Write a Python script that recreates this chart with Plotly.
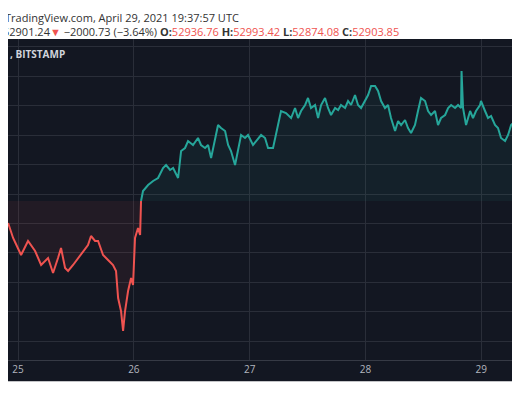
import plotly.graph_objects as go

baseline = 55000
red_x = [24.914,24.957,25.026,25.086,25.147,25.199,25.259,25.302,25.345,25.371,25.406,25.432,25.475,25.518,25.561,25.604,25.630,25.665,25.691,25.734,25.777,25.820,25.846,25.864,25.889,25.907,25.924,25.950,25.976,25.993,26.010,26.036,26.054,26.062]
red_y = [54626,54371,54082,54320,54150,53912,54031,53776,54031,54201,53861,53810,53912,54031,54150,54252,54405,54320,54320,54082,53997,53912,53810,53351,53130,52790,53130,53470,53691,53572,54371,54541,54422,55000]
green_x = [26.062,26.079,26.123,26.166,26.209,26.252,26.278,26.313,26.339,26.382,26.408,26.442,26.468,26.511,26.554,26.580,26.615,26.641,26.667,26.701,26.727,26.753,26.788,26.814,26.839,26.874,26.900,26.926,26.960,26.986,27.029,27.073,27.099,27.133,27.159,27.202,27.228,27.271,27.314,27.358,27.392,27.418,27.444,27.479,27.504,27.530,27.565,27.591,27.617,27.651,27.677,27.703,27.738,27.764,27.789,27.824,27.850,27.876,27.910,27.936,27.962,27.997,28.023,28.049,28.083,28.109,28.135,28.169,28.195,28.221,28.256,28.282,28.308,28.342,28.368,28.394,28.428,28.454,28.480,28.515,28.541,28.567,28.601,28.627,28.653,28.688,28.714,28.740,28.774,28.800,28.826,28.830,28.843,28.869,28.904,28.929,28.955,28.990,28.998,29.033,29.059,29.085,29.119,29.145,29.171,29.206,29.232,29.258,29.292,29.318,29.344,29.378,29.404]
green_y = [55000,55170,55272,55340,55391,55561,55612,55527,55561,55391,55850,55901,56020,55952,56071,55952,55901,55952,55731,56020,56292,56241,56190,55952,55850,55612,55850,56122,56071,56122,55952,56071,56122,56071,55901,55901,56122,56530,56496,56411,56581,56411,56530,56632,56751,56581,56632,56411,56632,56751,56581,56462,56581,56547,56632,56581,56700,56632,56802,56632,56581,56700,56802,56955,56955,56870,56700,56581,56632,56411,56190,56360,56292,56377,56241,56156,56292,56530,56751,56700,56530,56462,56530,56292,56411,56462,56581,56632,56581,56632,56581,57210,56581,56292,56530,56411,56530,56632,56700,56530,56411,56445,56292,56241,56071,56020,56122,56292,56360,56360,56190,56462,56462]
day_ticks = [25, 26, 27, 28, 29]

fig = go.Figure()
fig.add_trace(go.Scatter(x=red_x, y=[baseline]*len(red_x), mode="lines", line=dict(width=0), hoverinfo="skip"))
fig.add_trace(go.Scatter(x=red_x, y=red_y, mode="lines", line=dict(color="#ef5350", width=2),
                         fill="tonexty", fillcolor="rgba(239,83,80,0.07)"))
fig.add_trace(go.Scatter(x=green_x, y=[baseline]*len(green_x), mode="lines", line=dict(width=0), hoverinfo="skip"))
fig.add_trace(go.Scatter(x=green_x, y=green_y, mode="lines", line=dict(color="#26a69a", width=2),
                         fill="tonexty", fillcolor="rgba(38,166,154,0.07)"))

fig.update_layout(
    width=520, height=400, showlegend=False,
    margin=dict(l=0, r=0, t=31, b=48, autoexpand=False),
    paper_bgcolor="white", plot_bgcolor="#131722",
    font=dict(family="Open Sans", color="#b2b5be", size=11),
    xaxis=dict(range=[24.913, 29.404], tickvals=day_ticks, ticktext=[str(d) for d in day_ticks],
               gridcolor="#2a2e39", showline=True, linecolor="#363a45", zeroline=False, automargin=False,
               ticks="", tickfont=dict(color="#b2b5be", size=10)),
    yaxis=dict(range=[52297, 57754], tick0=55119, dtick=500, showticklabels=False, automargin=False,
               gridcolor="#2a2e39", zeroline=False),
    shapes=[dict(type="rect", xref="paper", yref="paper", x0=0, x1=1, y0=-0.066, y1=1,
                 fillcolor="#131722", line=dict(width=0), layer="below")],
    annotations=[
        dict(xref="paper", yref="paper", x=0, y=1, yshift=31, xshift=-5, xanchor="left", yanchor="top",
             showarrow=False, text="TradingView.com, April 29, 2021 19:37:57 UTC",
             font=dict(color="#333333", size=11)),
        dict(xref="paper", yref="paper", x=0, y=1, yshift=17, xshift=-7, xanchor="left", yanchor="top",
             showarrow=False,
             text="52901.24<span style='color:#ef5350'>▼</span> −2000.73 (−3.64%) <b>O:</b><span style='color:#ef5350'>52936.76</span> <b>H:</b><span style='color:#ef5350'>52993.42</span> <b>L:</b><span style='color:#ef5350'>52874.08</span> <b>C:</b><span style='color:#ef5350'>52903.85</span>",
             font=dict(color="#333333", size=11)),
        dict(xref="paper", yref="paper", x=0, y=1, yshift=-6, xanchor="left", yanchor="top",
             showarrow=False, text="<b>, BITSTAMP</b>", font=dict(color="#d1d4dc", size=10)),
    ],
)
fig.write_html("out.html")
